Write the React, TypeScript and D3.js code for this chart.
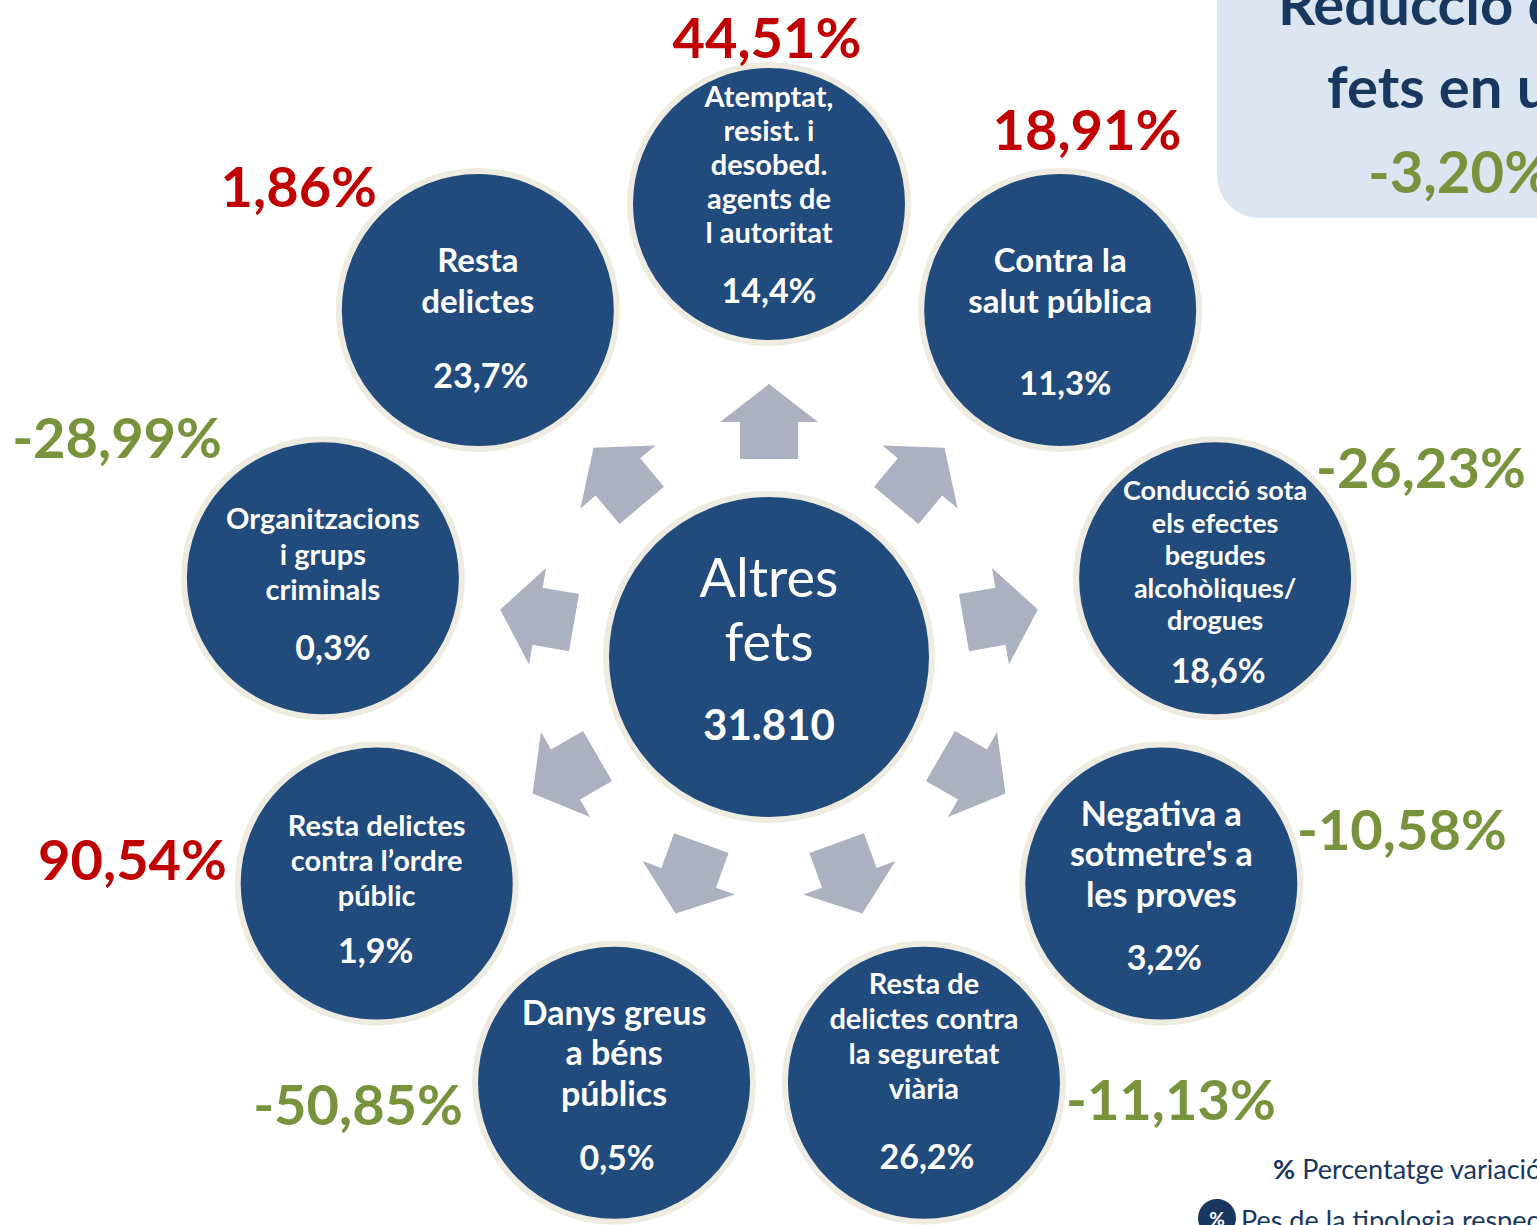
import React from "react";
import * as d3 from "d3";

const W = 1537;
const H = 1225;

// ---- data ----
const centerTitle = ["Altres", "fets"];
const centerTotal = "31.810";
const categoryLines: string[][] = [
  ["Atemptat,", "resist. i", "desobed.", "agents de", "l autoritat"],
  ["Contra la", "salut pública"],
  ["Conducció sota", "els efectes", "begudes", "alcohòliques/", "drogues"],
  ["Negativa a", "sotmetre's a", "les proves"],
  ["Resta de", "delictes contra", "la seguretat", "viària"],
  ["Danys greus", "a béns", "públics"],
  ["Resta delictes", "contra l’ordre", "públic"],
  ["Organitzacions", "i grups", "criminals"],
  ["Resta", "delictes"],
];
const weights = ["14,4%", "11,3%", "18,6%", "3,2%", "26,2%", "0,5%", "1,9%", "0,3%", "23,7%"];
const variations = ["44,51%", "18,91%", "-26,23%", "-10,58%", "-11,13%", "-50,85%", "90,54%", "-28,99%", "1,86%"];
const totalVariation = "-3,20%";
const boxTitle = ["Reducció dels", "fets en un any"];
const legendItems = ["Percentatge variació respecte any anterior", "Pes de la tipologia respecte el total"];

// ---- layout ----
const cx = 769;
const cy = 657;
const ringR = 453;
const outerR = 139;
const centerR = 163;
// per-circle text layout: label font size, first baseline offset, line step, weight offsets, weight font size
const textLayout = [
  { fs: 29, y0: -97, step: 34, wx: 0, wy: 99, wfs: 34 },
  { fs: 33, y0: -38, step: 41, wx: 5, wy: 85, wfs: 33 },
  { fs: 27, y0: -78, step: 32.5, wx: 3, wy: 105, wfs: 34 },
  { fs: 34, y0: -58, step: 40.5, wx: 3, wy: 86, wfs: 34 },
  { fs: 29, y0: -89, step: 35, wx: 3, wy: 86, wfs: 34 },
  { fs: 34, y0: -58, step: 40.5, wx: 3, wy: 87, wfs: 34 },
  { fs: 29, y0: -48, step: 35, wx: -1, wy: 79, wfs: 34 },
  { fs: 29, y0: -49, step: 35.5, wx: 10, wy: 82, wfs: 34 },
  { fs: 33, y0: -38, step: 41, wx: 3, wy: 78, wfs: 34 },
];
// variation label placement: [x, baseline y, anchor]
const varPos: [number, number, string][] = [
  [767, 58, "middle"],
  [1087, 150, "middle"],
  [1316, 488, "start"],
  [1297, 850, "start"],
  [1066, 1120, "start"],
  [463, 1125, "end"],
  [227, 880, "end"],
  [222, 458, "end"],
  [377, 207, "end"],
];

const NAVY = "#214A7D";
const BORDER = "#EEECE1";
const ARROW = "#ABB1C0";
const RED = "#C00000";
const GREEN = "#77933C";
const DARK = "#17375E";
const FONT = "Lato, 'Open Sans', sans-serif";

export default function App() {
  const n = categoryLines.length;
  const angle = d3.scaleLinear().domain([0, n]).range([-90, 270]);
  const pos = (i: number, r: number) => {
    const a = (angle(i) * Math.PI) / 180;
    return [cx + r * Math.cos(a), cy + r * Math.sin(a)];
  };
  // arrow pointing "up" in local coords, base at 0
  const arrowPts: [number, number][] = [
    [-29, 0], [29, 0], [29, -37], [49, -37], [0, -75], [-49, -37], [-29, -37],
  ];
  const arrowPath = d3.line()(arrowPts) + "Z";

  return (
    <svg width={W} height={H} style={{ position: "absolute", left: 0, top: 0, display: "block" }} fontFamily={FONT}>
      <rect width={W} height={H} fill="#fff" />
      {/* top-right box */}
      <rect x={1217} y={-60} width={420} height={278} rx={42} fill="#DCE6F2" />
      <text x={1278} y={25} fontSize={58} fontWeight={700} fill={DARK}>{boxTitle[0]}</text>
      <text x={1327} y={108} fontSize={58} fontWeight={700} fill={DARK}>{boxTitle[1]}</text>
      <text x={1368} y={193} fontSize={58} fontWeight={700} fill={GREEN}>{totalVariation}</text>

      {/* arrows */}
      {categoryLines.map((_, i) => {
        const [x, y] = pos(i, 198);
        return (
          <path key={"a" + i} d={arrowPath} fill={ARROW}
            transform={`translate(${x},${y}) rotate(${angle(i) + 90})`} />
        );
      })}

      {/* center */}
      <circle cx={cx} cy={cy} r={centerR} fill={NAVY} stroke={BORDER} strokeWidth={6} />
      <text x={cx} y={597} textAnchor="middle" fontSize={54} fill="#fff">{centerTitle[0]}</text>
      <text x={cx} y={661} textAnchor="middle" fontSize={54} fill="#fff">{centerTitle[1]}</text>
      <text x={cx} y={740} textAnchor="middle" fontSize={42} fontWeight={700} fill="#fff">{centerTotal}</text>

      {/* outer circles */}
      {categoryLines.map((lines, i) => {
        const [x, y] = pos(i, ringR);
        const L = textLayout[i];
        return (
          <g key={"c" + i}>
            <circle cx={x} cy={y} r={outerR} fill={NAVY} stroke={BORDER} strokeWidth={6} />
            {lines.map((t, j) => (
              <text key={j} x={x} y={y + L.y0 + j * L.step} textAnchor="middle" fontSize={L.fs}
                fontWeight={700} fill="#fff">{t}</text>
            ))}
            <text x={x + L.wx} y={y + L.wy} textAnchor="middle" fontSize={L.wfs} fontWeight={700} fill="#fff">
              {weights[i]}
            </text>
          </g>
        );
      })}

      {/* variation labels */}
      {variations.map((v, i) => (
        <text key={"v" + i} x={varPos[i][0]} y={varPos[i][1]} textAnchor={varPos[i][2] as any}
          fontSize={56} fontWeight={700} fill={v.startsWith("-") ? GREEN : RED}>{v}</text>
      ))}

      {/* legend */}
      <text x={1273} y={1179} fontSize={27} fill={DARK}>
        <tspan fontWeight={700}>%</tspan>
        <tspan dx={7}>{legendItems[0]}</tspan>
      </text>
      <circle cx={1217} cy={1218} r={19} fill={DARK} />
      <text x={1217} y={1226} textAnchor="middle" fontSize={19} fontWeight={700} fill="#fff">%</text>
      <text x={1241} y={1230} fontSize={27} fill={DARK}>{legendItems[1]}</text>
    </svg>
  );
}
